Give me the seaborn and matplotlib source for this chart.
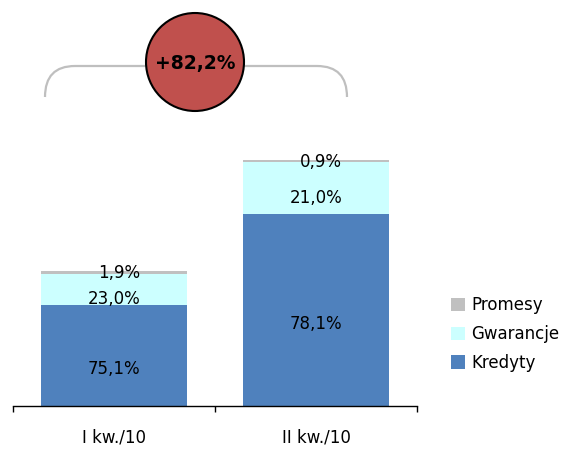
import matplotlib.pyplot as plt
import numpy as np
import pandas as pd
import seaborn as sns
from matplotlib.patches import Circle, Patch, PathPatch
from matplotlib.path import Path

# shares of each product in the quarter total (%), totals indexed to I kw. = 100
quarters = ["I kw./10", "II kw./10"]
totals = [100.0, 182.2]
kredyty = [75.1, 78.1]
gwarancje = [23.0, 21.0]
promesy = [1.9, 0.9]

segments = ["Kredyty", "Gwarancje", "Promesy"]
shares = {"Kredyty": kredyty, "Gwarancje": gwarancje, "Promesy": promesy}
colors = {"Kredyty": "#4F81BD", "Gwarancje": "#CCFFFF", "Promesy": "#C0C0C0"}
# downward nudge of the value labels, in pixels
label_nudge = {"Kredyty": 14, "Gwarancje": 10, "Promesy": 1}

rows = []
for i, q in enumerate(quarters):
    bottom = 0.0
    for seg in segments:
        value = shares[seg][i] * totals[i] / 100
        rows.append({"quarter": q, "segment": seg, "share": shares[seg][i],
                     "value": value, "bottom": bottom, "top": bottom + value})
        bottom += value
df = pd.DataFrame(rows)

sns.set_theme(style="white")
plt.rcParams["font.family"] = ["DejaVu Sans"]
plt.rcParams["text.color"] = "black"

fig = plt.figure(figsize=(5.64, 4.51), dpi=100)
fig.patch.set_facecolor("white")
ax = fig.add_axes([13 / 564, 45 / 451, 404 / 564, 406 / 451])

# stack by overdrawing the cumulative tops, biggest first
for seg in reversed(segments):
    sub = df[df["segment"] == seg]
    sns.barplot(data=sub, x="quarter", y="top", order=quarters, color=colors[seg],
                saturation=1, width=0.72, edgecolor="none", ax=ax)

for _, r in df.iterrows():
    i = quarters.index(r["quarter"])
    ax.annotate(f"{r['share']:.1f}%".replace(".", ","),
                xy=(i + 0.13, r["bottom"] + r["value"] / 2),
                xytext=(0, -label_nudge[r["segment"]]), textcoords="offset pixels",
                ha="right", va="center", fontsize=12, color="black")

ax.set_xlim(-0.5, len(quarters) - 0.5)
ax.set_ylim(0, 406 / 1.35)
ax.set_xlabel("")
ax.set_ylabel("")
ax.set_yticks([])
ax.set_xticks(np.arange(len(quarters) + 1) - 0.5)
ax.set_xticklabels([""] * (len(quarters) + 1))
ax.set_xticks(np.arange(len(quarters)), minor=True)
ax.set_xticklabels(quarters, minor=True, fontsize=12, color="black")
ax.tick_params(axis="x", which="major", bottom=True, length=4.5, width=1,
               color="black", direction="out")
ax.tick_params(axis="x", which="minor", bottom=True, length=0, pad=16)
for side in ["top", "right", "left"]:
    ax.spines[side].set_visible(False)
ax.spines["bottom"].set_color("black")
ax.spines["bottom"].set_linewidth(1)
ax.set_facecolor("none")

# growth bracket and bubble, drawn in figure pixels
ov = fig.add_axes([0, 0, 1, 1])
ov.set_xlim(0, 564)
ov.set_ylim(451, 0)
ov.axis("off")
ov.patch.set_alpha(0)
verts = [(45, 97), (45, 66), (75, 66), (317, 66), (347, 66), (347, 97)]
codes = [Path.MOVETO, Path.CURVE3, Path.CURVE3, Path.LINETO, Path.CURVE3, Path.CURVE3]
ov.add_patch(PathPatch(Path(verts, codes), facecolor="none", edgecolor="#BFBFBF", lw=1.6))
ov.add_patch(Circle((195, 62), 49, facecolor="#C0504D", edgecolor="black", lw=1.5, zorder=3))
growth = (totals[1] / totals[0] - 1) * 100
ov.text(195, 63, f"+{growth:.1f}%".replace(".", ","), ha="center", va="center",
        fontsize=13.5, fontweight="bold", color="black", zorder=4)

handles = [Patch(facecolor=colors[s], edgecolor="none", label=s) for s in reversed(segments)]
fig.legend(handles=handles, loc="center left", bbox_to_anchor=(451 / 564, 1 - 334 / 451),
           frameon=False, fontsize=12, handlelength=0.85, handleheight=0.85,
           handletextpad=0.35, labelspacing=0.65, borderpad=0, borderaxespad=0,
           labelcolor="black")

fig.savefig("out.png", dpi=100)
